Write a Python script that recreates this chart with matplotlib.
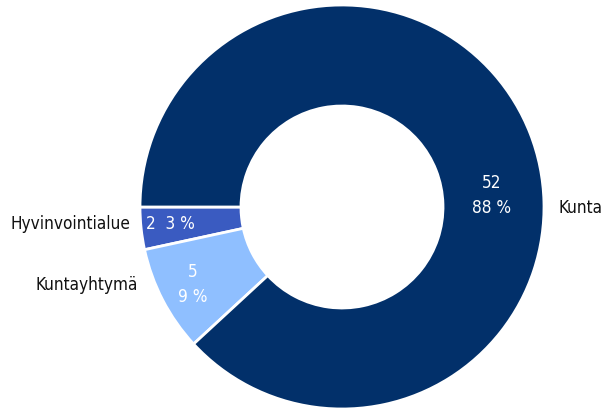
import matplotlib
matplotlib.use("Agg")
import matplotlib.pyplot as plt
from matplotlib import font_manager

# data
categories = ["Hyvinvointialue", "Kuntayhtymä", "Kunta"]
counts = [2, 5, 52]
pct_labels = ["3 %", "9 %", "88 %"]
colors = ["#3a5bc1", "#8fbfff", "#02306a"]

# pick a narrow font if there is one, otherwise Liberation Sans a bit smaller
fprops = None
for f in font_manager.fontManager.ttflist:
    if ("Narrow" in f.name or "Condensed" in f.name or f.stretch in ("condensed", "semi-condensed")) \
            and f.weight in (400, "normal", "regular") and f.style == "normal":
        fprops = font_manager.FontProperties(fname=f.fname)
        break
if fprops is not None:
    fs = 12.3
else:
    fprops = font_manager.FontProperties(family="Liberation Sans")
    fs = 12

fig = plt.figure(figsize=(6.06, 4.10), dpi=100)
ax = fig.add_axes([0, 0, 1, 1])

wedges, _ = ax.pie(counts, colors=colors, startangle=180, counterclock=True,
                   radius=1.0, wedgeprops=dict(width=0.5, edgecolor="white", linewidth=2))

ax.set_xlim(-342 / 202, (606 - 342) / 202)
ax.set_ylim(-202 / 202, 208 / 202)
ax.set_aspect("equal")
ax.axis("off")

# category labels
ax.text(-1.05, -0.08, categories[0], ha="right", va="center", fontproperties=fprops, fontsize=fs, color="#111111")
ax.text(-1.01, -0.38, categories[1], ha="right", va="center", fontproperties=fprops, fontsize=fs, color="#111111")
ax.text(1.07, 0.0, categories[2], ha="left", va="center", fontproperties=fprops, fontsize=fs, color="#111111")

# value labels
ax.text(-0.97, -0.08, f"{counts[0]}  {pct_labels[0]}", ha="left", va="center",
        fontproperties=fprops, fontsize=fs, color="white")
ax.text(-0.74, -0.38, f"{counts[1]}\n{pct_labels[1]}", ha="center", va="center",
        fontproperties=fprops, fontsize=fs, color="white", linespacing=1.5)
ax.text(0.74, 0.06, f"{counts[2]}\n{pct_labels[2]}", ha="center", va="center",
        fontproperties=fprops, fontsize=fs, color="white", linespacing=1.5)

plt.savefig("out.png", dpi=100)
